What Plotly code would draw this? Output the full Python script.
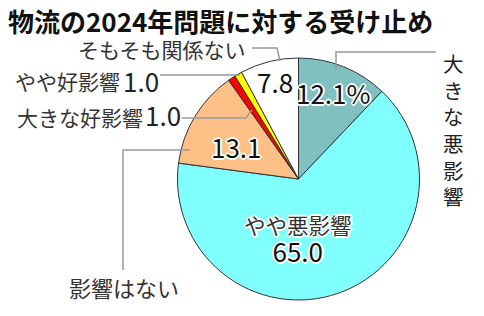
import plotly.graph_objects as go

W, H = 484, 316

# ---- data ----
categories = ["大きな悪影響", "やや悪影響", "影響はない", "大きな好影響", "やや好影響", "そもそも関係ない"]
values = [12.1, 65.0, 13.1, 1.0, 1.0, 7.8]
value_labels = ["12.1%", "65.0", "13.1", "1.0", "1.0", "7.8"]
colors = ["#80c0c0", "#80ffff", "#ffc088", "#ff0000", "#ffff00", "#ffffff"]
title = "物流の2024年問題に対する受け止め"

JP = "Noto Sans CJK JP"
NUM = "Noto Sans CJK JP"
HALO = "-1px -1px 0 #fff, 1px -1px 0 #fff, -1px 1px 0 #fff, 1px 1px 0 #fff, 0 -2px 0 #fff, 0 2px 0 #fff, -2px 0 0 #fff, 2px 0 0 #fff"


def px(x, y):
    return x / W, 1 - y / H


cx, cy, r = 298.5, 179, 121

fig = go.Figure(go.Pie(
    labels=categories, values=values, sort=False, direction="clockwise", rotation=0,
    marker=dict(colors=colors, line=dict(color="#333333", width=1)),
    textinfo="none", hoverinfo="label+value", showlegend=False,
    domain=dict(x=[(cx - r) / W, (cx + r) / W], y=[1 - (cy + r) / H, 1 - (cy - r) / H]),
))

anns = []


def ann(text, x, y, size, family=JP, color="#222", xanchor="center", shadow=None, weight=None):
    xx, yy = px(x, y)
    f = dict(family=family, size=size, color=color)
    if shadow:
        f["shadow"] = shadow
    if weight:
        f["weight"] = weight
    anns.append(dict(text=text, x=xx, y=yy, xref="paper", yref="paper", xanchor=xanchor,
                     yanchor="middle", showarrow=False, font=f))


# title
ann(title, 6, 20, 26, family=JP, color="#111", xanchor="left", weight="bold")

# outside labels
ann(categories[5], 162, 49, 21, color="#333")
ann(categories[4], 67, 81, 21, color="#333")
ann(value_labels[4], 141, 80, 26, family=NUM, color="#222")
ann(categories[3], 80, 117, 21, color="#333")
ann(value_labels[3], 163, 115, 26, family=NUM, color="#222")
ann(categories[2], 124, 287, 22, color="#333")

# vertical label (one character per line)
ann("<br>".join(categories[0]), 453, 129, 20.5, color="#222")

# inside labels
ann(value_labels[5], 275, 81, 26, family=NUM, color="#111")
ann(value_labels[0], 333, 92, 26, family=NUM, color="#111", shadow=HALO)
ann(value_labels[2], 236, 146, 26, family=NUM, color="#111", shadow=HALO)
ann(categories[1] + "<br><span style='font-size:26px;color:#111'>" + value_labels[1] + "</span>",
    298, 239, 21.5, color="#333", shadow=HALO)

# leader lines (pixel paths)
leaders = [
    [(252, 48), (277, 48), (280, 61)],
    [(160, 75), (240, 75)],
    [(182, 118), (246, 118), (252, 110)],
    [(123, 270), (123, 150), (190, 150)],
    [(336, 70), (336, 52), (436, 52)],
]
shapes = []
for pts in leaders:
    path = ""
    for j, (x, y) in enumerate(pts):
        xx, yy = px(x, y)
        path += ("M" if j == 0 else "L") + f"{xx},{yy} "
    shapes.append(dict(type="path", path=path.strip(), xref="paper", yref="paper",
                       line=dict(color="#999999", width=1.5)))

fig.update_layout(
    width=W, height=H, margin=dict(l=0, r=0, t=0, b=0),
    paper_bgcolor="white", plot_bgcolor="white",
    annotations=anns, shapes=shapes,
)

fig.write_html("out.html")
